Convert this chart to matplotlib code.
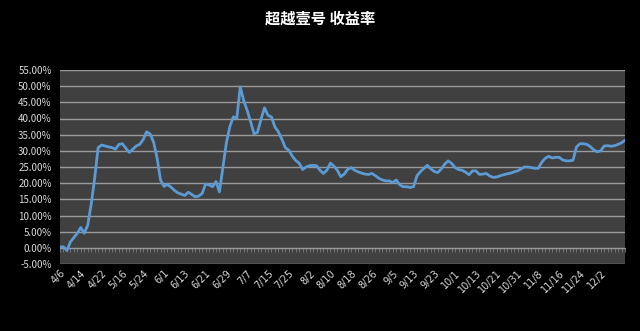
import matplotlib
matplotlib.use("Agg")
import matplotlib.pyplot as plt
from matplotlib.ticker import FixedLocator, FuncFormatter
import numpy as np

plt.rcParams['font.family'] = ['Noto Sans CJK SC', 'DejaVu Sans']

title = "超越壹号 收益率"

returns = [
    0.3, 0.3, -0.8, 1.8, 3.2, 4.5, 6.3, 4.5, 7.0, 13.5,
    21.5, 31.0, 31.8, 31.5, 31.2, 31.0, 30.5, 32.0, 32.2, 30.8,
    29.5, 30.5, 31.5, 32.0, 33.5, 35.9, 35.2, 32.7, 27.8, 21.0,
    19.0, 19.6, 18.8, 17.8, 17.0, 16.6, 16.2, 17.2, 16.5, 15.8,
    16.0, 16.8, 19.7, 19.5, 18.9, 20.5, 17.3, 25.0, 32.5, 37.5,
    40.5, 40.0, 49.8, 45.5, 42.5, 39.0, 35.2, 35.8, 39.8, 43.3,
    41.0, 40.5, 37.4, 35.9, 33.6, 31.0, 30.2, 28.4, 27.0, 26.2,
    24.2, 25.0, 25.4, 25.5, 25.4, 24.0, 23.0, 24.0, 26.2, 25.3,
    24.0, 22.0, 22.8, 24.3, 24.8, 24.0, 23.5, 23.1, 22.8, 22.7,
    23.0, 22.3, 21.5, 21.0, 20.7, 20.7, 20.2, 21.0, 19.5, 18.9,
    18.9, 18.7, 18.9, 22.3, 23.6, 24.6, 25.5, 24.4, 23.6, 23.3,
    24.4, 25.9, 26.9, 26.1, 24.8, 24.2, 24.0, 23.4, 22.6, 23.8,
    23.8, 22.7, 22.8, 23.0, 22.2, 21.8, 21.9, 22.3, 22.6, 22.9,
    23.1, 23.5, 23.8, 24.4, 25.0, 25.0, 24.8, 24.6, 24.6, 26.5,
    27.7, 28.3, 27.8, 28.0, 28.0, 27.2, 26.9, 26.9, 27.1, 31.2,
    32.2, 32.2, 32.0, 31.3, 30.3, 29.7, 30.0, 31.5, 31.6, 31.4,
    31.6, 32.0, 32.5, 33.3,
]

tick_labels = [
    "4/6", "4/14", "4/22", "5/16", "5/24", "6/1", "6/13", "6/21", "6/29",
    "7/7", "7/15", "7/25", "8/2", "8/10", "8/18", "8/26", "9/5", "9/13",
    "9/23", "10/1", "10/13", "10/21", "10/31", "11/8", "11/16", "11/24", "12/2",
]
label_step = 6

y_ticks = [-5, 0, 5, 10, 15, 20, 25, 30, 35, 40, 45, 50, 55]

fig = plt.figure(figsize=(6.4, 3.31), dpi=100, facecolor="black")
ax = fig.add_axes([60/640, 1-264/331, 565/640, 194/331])
ax.set_facecolor("#404040")

x = np.arange(len(returns))
ax.plot(x, returns, color="#5b9bd5", lw=2.0, solid_joinstyle="round", zorder=3)

ax.set_xlim(0, len(returns) - 1)
ax.set_ylim(-5, 55)
ax.set_yticks(y_ticks)
ax.yaxis.set_major_formatter(FuncFormatter(lambda v, p: f"{v:.2f}%"))
ax.grid(axis="y", color="#9a9a9a", lw=1.0)
ax.set_axisbelow(True)
ax.tick_params(axis="y", length=0, colors="#d9d9d9", labelsize=7, pad=6)

tick_pos = [i * label_step for i in range(len(tick_labels))]
ax.set_xticks(tick_pos)
ax.set_xticklabels(tick_labels, rotation=45, ha="right", va="top",
                   rotation_mode="anchor", fontsize=7, color="#d9d9d9",
                   family=["DejaVu Sans"])
ax.tick_params(axis="x", length=0, pad=3)

for s in ax.spines.values():
    s.set_visible(False)

# category axis crossing at 0%
sec = ax.secondary_xaxis(5/60)
sec.xaxis.set_major_locator(FixedLocator(list(x)))
sec.tick_params(axis="x", length=3, width=0.6, direction="out", color="#7a7a7a",
                labelbottom=False, labeltop=False)
sec.spines["bottom"].set_color("#8c8c8c")

fig.text(0.5, 0.945, title, ha="center", va="center", color="white",
         fontsize=11, fontweight="bold")

fig.savefig("out.png", dpi=100, facecolor="black")
